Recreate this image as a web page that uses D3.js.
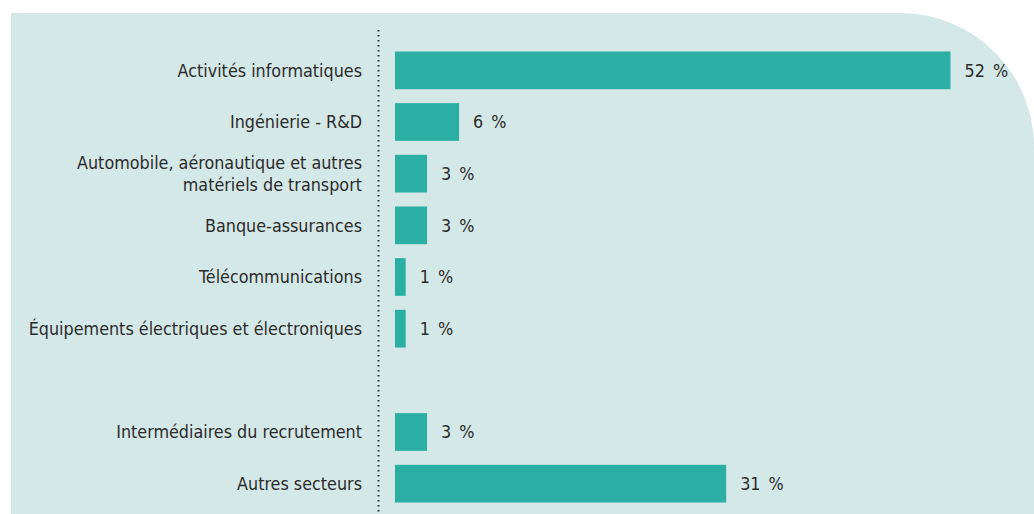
<!DOCTYPE html>
<html>
<head>
<meta charset="utf-8">
<script src="https://cdn.jsdelivr.net/npm/d3@7"></script>
<style>
  body { margin: 0; background: #fff; }
  text { font-family: "DejaVu Sans Condensed", "DejaVu Sans", sans-serif; fill: #2b2b2b; }
</style>
</head>
<body>
<script>
// sectors, top to bottom ("" = empty row in the original layout)
var sectors = [
  ["Activités informatiques"],
  ["Ingénierie - R&D"],
  ["Automobile, aéronautique et autres", "matériels de transport"],
  ["Banque-assurances"],
  ["Télécommunications"],
  ["Équipements électriques et électroniques"],
  [""],
  ["Intermédiaires du recrutement"],
  ["Autres secteurs"]
];
var shares = [52, 6, 3, 3, 1, 1, null, 3, 31];

w = 1034;
h = 514;

var svg = d3.select("body")
  .append("svg")
    .attr("width", w)
    .attr("height", h);

// background panel with the big rounded corner top right
var px = 11, py = 13, r = 134;
var p = d3.path();
p.moveTo(px, h);
p.lineTo(px, py);
p.lineTo(w - r, py);
p.arc(w - r, py + r, r, -Math.PI / 2, 0);
p.lineTo(w, h);
p.closePath();
svg.append("path")
    .attr("d", p.toString())
    .attr("fill", "#d4e8e7");

// scales
var idx = d3.range(sectors.length);
var y = d3.scaleBand()
    .domain(idx)
    .range([44.5, 509.5])
    .paddingInner(0.27)
    .paddingOuter(0.135);

var x = d3.scaleLinear()
    .domain([0, 52])
    .range([395, 950.5]);

// dotted separator
svg.append("line")
    .attr("x1", 378.5).attr("x2", 378.5)
    .attr("y1", 30).attr("y2", h)
    .attr("stroke", "#333")
    .attr("stroke-width", 2)
    .attr("stroke-dasharray", "1.6,3.4");

var rows = idx.filter(function(i) { return shares[i] != null; });

// bars
svg.selectAll("rect.bar")
  .data(rows)
  .enter().append("rect")
    .attr("class", "bar")
    .attr("x", x(0))
    .attr("y", function(i) { return y(i); })
    .attr("width", function(i) { return x(shares[i]) - x(0); })
    .attr("height", y.bandwidth())
    .attr("fill", "#2bafa5");

// category labels
var lab = svg.selectAll("text.cat")
  .data(rows)
  .enter().append("text")
    .attr("class", "cat")
    .attr("text-anchor", "end")
    .style("font-size", "17.8px")
    .attr("transform", function(i) {
      return "translate(362," + (y(i) + y.bandwidth() / 2) + ")";
    });

lab.selectAll("tspan")
  .data(function(i) {
    var lines = sectors[i];
    return lines.map(function(t, k) { return { t: t, k: k, n: lines.length }; });
  })
  .enter().append("tspan")
    .attr("x", 0)
    .attr("y", function(d) { return (d.k - (d.n - 1) / 2) * 22; })
    .attr("dy", "0.35em")
    .text(function(d) { return d.t; });

// value labels
svg.selectAll("text.val")
  .data(rows)
  .enter().append("text")
    .attr("class", "val")
    .style("font-size", "17.8px")
    .style("word-spacing", "3px")
    .attr("x", function(i) { return x(shares[i]) + 14; })
    .attr("y", function(i) { return y(i) + y.bandwidth() / 2; })
    .attr("dy", "0.35em")
    .text(function(i) { return shares[i] + " %"; });
</script>
</body>
</html>
